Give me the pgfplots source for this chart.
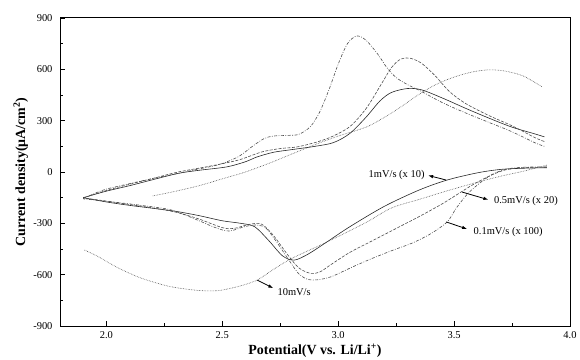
\documentclass[border=0pt]{standalone}
\usepackage{fontspec}
\setmainfont{Liberation Serif}
\usepackage{pgfplots}
\pgfplotsset{compat=1.18}
\usetikzlibrary{arrows.meta}
\begin{document}
\begin{tikzpicture}
\begin{axis}[
  at={(0,0)}, anchor=south west,
  scale only axis, width=510bp, height=308bp,
  xmin=1.8, xmax=4.0, ymin=-900, ymax=900,
  xtick={2.0,2.5,3.0,3.5,4.0}, xticklabels={2.0,2.5,3.0,3.5,4.0},
  ytick={-900,-600,-300,0,300,600,900},
  yticklabels={-900,-600,-300,0,300,600,900},
  minor x tick num=1, minor y tick num=1,
  xtick pos=bottom, ytick pos=left,
  tick align=inside,
  axis line style={line width=1pt},
  major tick length=5bp, minor tick length=3bp,
  every tick/.style={line width=0.8pt, black},
  ticklabel style={font=\fontsize{10.5}{12}\selectfont},
  yticklabel style={xshift=-4bp},
  xticklabel style={yshift=-2bp},
  xlabel={Potential(V vs. Li/Li\textsuperscript{+})},
  ylabel={Current density(μA/cm\textsuperscript{2})},
  label style={font=\bfseries\fontsize{14}{16}\selectfont},
  xlabel style={at={(axis description cs:0.5,-0.094)}, anchor=base},
  ylabel style={at={(axis description cs:-0.077,0.5)}, anchor=center},
  every axis plot/.append style={smooth, tension=0.5, line width=0.6pt},
]
% 10 mV/s
\addplot[black!70, densely dotted] coordinates {
(2.2,-140)
(2.3,-112) (2.4,-80) (2.5,-40) (2.6,0) (2.7,50) (2.8,105) (2.9,160)
(3.0,210) (3.12,262) (3.2,320) (3.27,380) (3.35,455) (3.42,510)
(3.5,555) (3.58,585) (3.65,597) (3.72,590) (3.8,560) (3.88,497)};
\addplot[black!70, densely dotted] coordinates {
(3.9,40) (3.8,5) (3.7,-25) (3.6,-60) (3.47,-110) (3.35,-160) (3.23,-210)
(3.12,-295) (2.95,-410) (2.80,-505) (2.72,-570) (2.65,-632) (2.58,-665)
(2.5,-690) (2.45,-695) (2.38,-690) (2.27,-668) (2.15,-620) (2.05,-560)
(1.96,-491) (1.905,-456)};
% 1 mV/s (x 10)
\addplot[black!85] coordinates {
(1.9,-150) (2.0,-112) (2.1,-80) (2.2,-45) (2.31,-8) (2.4,10) (2.52,30)
(2.6,60) (2.65,88) (2.72,115) (2.79,129) (2.9,150) (2.98,172) (3.05,225)
(3.12,320) (3.18,415) (3.23,465) (3.3,488) (3.36,480) (3.45,432)
(3.55,372) (3.65,315) (3.75,262) (3.85,222) (3.89,205)};
\addplot[black!85] coordinates {
(3.9,25) (3.8,22) (3.7,15) (3.6,-5) (3.47,-47) (3.35,-105) (3.2,-200)
(3.05,-320) (2.95,-410) (2.87,-480) (2.81,-515) (2.76,-490) (2.7,-400)
(2.64,-320) (2.58,-300) (2.5,-285) (2.4,-255) (2.3,-230) (2.2,-212)
(2.1,-195) (2.0,-175) (1.9,-150)};
% 0.5 mV/s (x 20)
\addplot[black!70, dash pattern=on 3pt off 1.5pt] coordinates {
(1.9,-152) (2.0,-108) (2.1,-72) (2.2,-38) (2.31,0) (2.45,35) (2.57,70)
(2.67,117) (2.75,137) (2.82,146) (2.9,172) (2.97,205) (3.05,265)
(3.12,370) (3.18,500) (3.23,610) (3.27,660) (3.31,665) (3.36,635)
(3.42,560) (3.48,470) (3.55,400) (3.65,330) (3.75,270) (3.85,200)
(3.89,178)};
\addplot[black!70, dash pattern=on 3pt off 1.5pt] coordinates {
(3.9,28) (3.8,25) (3.72,12) (3.65,-25) (3.58,-75) (3.53,-117) (3.45,-185)
(3.35,-260) (3.25,-330) (3.15,-400) (3.05,-470) (2.97,-540) (2.92,-585)
(2.88,-592) (2.83,-560) (2.78,-480) (2.72,-370) (2.67,-305) (2.62,-305)
(2.55,-330) (2.5,-325) (2.4,-275) (2.3,-235) (2.2,-210) (2.1,-190)
(2.0,-170) (1.9,-152)};
% 0.1 mV/s (x 100)
\addplot[black!70, dash pattern=on 3pt off 1.5pt on 0.8pt off 1.5pt] coordinates {
(1.9,-155) (1.95,-125) (2.0,-100) (2.1,-68) (2.2,-38) (2.31,-8) (2.4,18)
(2.49,45) (2.57,90) (2.63,150) (2.68,195) (2.72,210) (2.78,214)
(2.83,220) (2.88,265) (2.92,350) (2.96,480) (3.0,630) (3.04,750)
(3.08,795) (3.12,770) (3.17,690) (3.21,610) (3.25,552) (3.3,510)
(3.36,470) (3.45,405) (3.55,345) (3.65,290) (3.75,235) (3.85,170)
(3.89,150)};
\addplot[black!70, dash pattern=on 3pt off 1.5pt on 0.8pt off 1.5pt] coordinates {
(3.9,30) (3.8,28) (3.73,18) (3.67,-10) (3.62,-55) (3.56,-125) (3.51,-210)
(3.47,-292) (3.4,-360) (3.32,-415) (3.24,-455) (3.15,-503) (3.06,-556)
(2.97,-612) (2.91,-630) (2.87,-628) (2.83,-595) (2.79,-520) (2.74,-420)
(2.69,-330) (2.65,-310) (2.6,-318) (2.53,-345) (2.47,-325) (2.4,-285)
(2.28,-222) (2.15,-195) (2.06,-180) (1.98,-168) (1.9,-157)};
% scan-rate annotations
\tikzset{note/.style={font=\fontsize{10.5}{12}\selectfont, inner sep=0pt},
         pointer/.style={line width=0.8pt, -{Latex[length=5bp,width=3.5bp]}}}
\node[note] at (axis cs:3.252,-18) {1mV/s (x 10)};
\draw[pointer] (axis cs:3.466,-47) -- (axis cs:3.388,-20);
\node[note] at (axis cs:3.81,-170) {0.5mV/s (x 20)};
\draw[pointer] (axis cs:3.534,-117) -- (axis cs:3.648,-162);
\node[note] at (axis cs:3.733,-351) {0.1mV/s (x 100)};
\draw[pointer] (axis cs:3.466,-292) -- (axis cs:3.556,-333);
\node[note] at (axis cs:2.81,-702) {10mV/s};
\draw[pointer] (axis cs:2.651,-632) -- (axis cs:2.72,-679);
\end{axis}
\pgfresetboundingbox
\path[use as bounding box] (-60bp,-34bp) rectangle (520bp,326bp);
\end{tikzpicture}
\end{document}
